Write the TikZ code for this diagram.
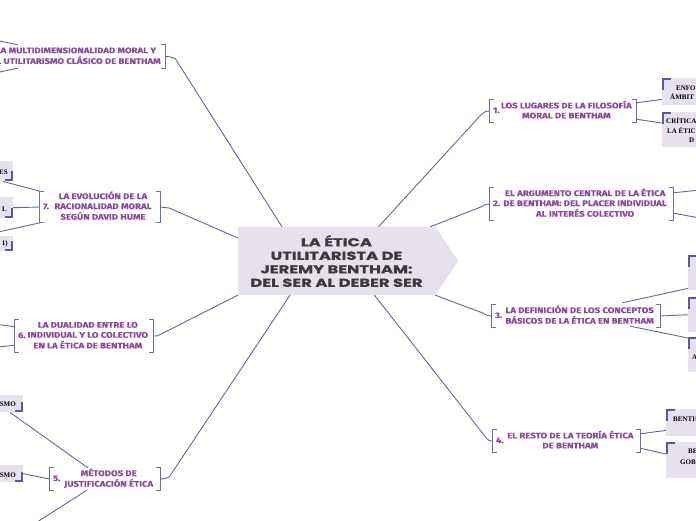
\documentclass[tikz,border=0pt]{standalone}
\usepackage{fontspec}
\setmainfont{Liberation Serif}
\newfontfamily\topicfont{Fira Sans}[FakeStretch=1.2,FakeBold=0.4]
\newfontfamily\centfont{Poppins}[FakeStretch=1.42,FakeBold=1.2]
\usetikzlibrary{calc,backgrounds}
\definecolor{lav}{HTML}{E7E1EE}
\definecolor{conn}{HTML}{6466A3}
\definecolor{brk}{HTML}{6A6BA8}
\definecolor{ttext}{HTML}{8B4A9D}
\definecolor{corner}{HTML}{575C9C}
\definecolor{ctext}{HTML}{3B3B3B}
\newcommand\mytopic[3]{\makebox[#1pt]{#2\hfill\begin{tabular}[c]{@{}c@{}}#3\end{tabular}\hfill}}
\newcommand\mybrackets[1]{%
 \draw[brkline] ($(#1.north west)+(4,0)$) -- (#1.north west) -- (#1.south west) -- ++(4,0);
 \draw[brkline] ($(#1.north east)+(-4,0)$) -- (#1.north east) -- (#1.south east) -- ++(-4,0);}
\newcommand\cornerR[1]{\draw[cornerline] ($(#1.north west)+(1.2,12)$) -- ($(#1.north west)+(1.2,1.2)$) -- ($(#1.north west)+(9,1.2)$);}
\newcommand\cornerL[1]{\draw[cornerline] ($(#1.south east)+(-1.2,-10)$) -- ($(#1.south east)+(-1.2,-1.2)$) -- ($(#1.south east)+(-8,-1.2)$);}
\begin{document}
\begin{tikzpicture}[x=1pt,y=-1pt,
 topic/.style={font=\topicfont\bfseries\fontsize{8}{10}\selectfont, text=ttext, inner xsep=3pt, inner ysep=0pt},
 brkline/.style={draw=brk, line width=1.2pt},
 link/.style={draw=conn, line width=0.9pt},
 sub/.style={fill=lav, inner sep=0pt, anchor=north west},
 subL/.style={fill=lav, inner sep=0pt, anchor=north east, minimum width=50pt},
 subtxt/.style={font=\bfseries\fontsize{7}{8}\selectfont, text=black, inner sep=0pt, anchor=base west},
 subtxtR/.style={subtxt, anchor=base east},
 cornerline/.style={draw=corner, line width=2.2pt},
]
\clip (0,0) rectangle (696,520);
% central node
\node[font=\centfont\bfseries\fontsize{11.5}{13.5}\selectfont, text=ctext, align=center,
  minimum width=197pt, minimum height=68pt, inner sep=0pt] (c) at (336.5,261)
  {LA ÉTICA\\UTILITARISTA DE\\JEREMY BENTHAM:\\DEL SER AL DEBER SER};
\begin{scope}[on background layer]
\fill[white] (0,0) rectangle (696,520);
\fill[lav] (c.north west) -- (c.north east) -- ($(c.east)+(23,0)$) -- (c.south east) -- (c.south west) -- cycle;
\end{scope}
% topics
\node[topic, minimum height=22pt] (t1) at (563,111) {\mytopic{140}{1.}{LOS LUGARES DE LA FILOSOFÍA\\MORAL DE BENTHAM}};
\node[topic, minimum height=32pt] (t2) at (581.5,204) {\mytopic{177}{2.}{EL ARGUMENTO CENTRAL DE LA ÉTICA\\DE BENTHAM: DEL PLACER INDIVIDUAL\\AL INTERÉS COLECTIVO}};
\node[topic, minimum height=22pt] (t3) at (576,316) {\mytopic{162}{3.}{LA DEFINICIÓN DE LOS CONCEPTOS\\BÁSICOS DE LA ÉTICA EN BENTHAM}};
\node[topic, minimum height=22pt] (t4) at (566.5,441) {\mytopic{141}{4.}{EL RESTO DE LA TEORÍA ÉTICA\\DE BENTHAM}};
\node[topic, minimum height=22pt] (t5) at (105,479) {\mytopic{104}{5.}{MÉTODOS DE\\JUSTIFICACIÓN ÉTICA}};
\node[topic, minimum height=32pt] (t6) at (84,336) {\mytopic{132}{6.}{LA DUALIDAD ENTRE LO\\INDIVIDUAL Y LO COLECTIVO\\EN LA ÉTICA DE BENTHAM}};
\node[topic, minimum height=30pt] (t7) at (100,207) {\mytopic{114}{7.}{LA EVOLUCIÓN DE LA\\RACIONALIDAD MORAL\\SEGÚN DAVID HUME}};
\node[topic, minimum height=23pt] (t8) at (72,56.5) {\mytopic{180}{8.}{LA MULTIDIMENSIONALIDAD MORAL Y\\EL UTILITARISMO CLÁSICO DE BENTHAM}};
\foreach \t in {t1,t2,t3,t4,t5,t6,t7,t8}{\mybrackets{\t}}
% sub nodes right
\node[sub, minimum width=60pt, minimum height=27pt] (s1a) at (662,78) {};
\node[sub, minimum width=60pt, minimum height=35pt] (s1b) at (662,112) {};
\node[sub, minimum width=30pt, minimum height=35pt] (s3a) at (688,255) {};
\node[sub, minimum width=30pt, minimum height=35pt] (s3b) at (688,297) {};
\node[sub, minimum width=30pt, minimum height=35pt] (s3c) at (688,337) {};
\node[sub, minimum width=60pt, minimum height=27pt] (s4a) at (666,409) {};
\node[sub, minimum width=60pt, minimum height=36pt] (s4b) at (666,442) {};
\foreach \s in {s1a,s1b,s3a,s3b,s3c,s4a,s4b}{\cornerR{\s}}
% sub nodes left
\node[subL, minimum height=20pt] (s7a) at (13,161) {};
\node[subL, minimum height=21pt] (s7b) at (13,197) {};
\node[subL, minimum height=15pt] (s7c) at (13,236) {};
\node[subL, minimum height=17pt] (s5a) at (23,395) {};
\node[subL, minimum height=17pt] (s5b) at (23,465) {};
\foreach \s in {s7a,s7b,s7c,s5a,s5b}{\cornerL{\s}}
% sub texts
\node[subtxt] (x1) at (676,90) {ENFO};
\node[subtxt] (x2) at (670,99) {ÁMBIT};
\node[subtxt] (x3) at (666,123.5) {CRÍTICA};
\node[subtxt] (x4) at (667,133) {LA ÉTIC};
\node[subtxt] (x5) at (689,142.5) {D};
\node[subtxt] (x6) at (692,359) {A};
\node[subtxt] (x7) at (673,421) {BENTH};
\node[subtxt] (x8) at (688,453) {BE};
\node[subtxt] (x9) at (680,464) {GOB};
\node[subtxtR] (y1) at (8,174) {ES};
\node[subtxtR] (y2) at (7,211) {L};
\node[subtxtR] (y3) at (8,245) {1)};
\node[subtxtR] (y4) at (16,406) {SMO};
\node[subtxtR] (y5) at (16,477) {SMO};
% free ends
\coordinate (e2a) at (700,190);
\coordinate (e2b) at (700,218);
\coordinate (e5c) at (20,533);
\coordinate (e6a) at (-20,322);
\coordinate (e6b) at (-20,349);
\coordinate (e8a) at (-10,39);
\coordinate (e8b) at (-10,74);
% central connectors
\draw[link] ($(c.north)+(-54.5,0)$) -- ($(t8.east)+(10,2)$) .. controls ($(t8.east)+(4,0)$) .. (t8.east);
\draw[link] ($(c.west)+(0,-23)$) -- ($(t7.east)+(9,1)$) .. controls ($(t7.east)+(4,0)$) .. (t7.east);
\draw[link] (c.south west) -- ($(t6.east)+(8,-2)$) .. controls ($(t6.east)+(4,0)$) .. (t6.east);
\draw[link] ($(c.south)+(-46.5,0)$) -- ($(t5.east)+(9,-2)$) .. controls ($(t5.east)+(4,0)$) .. (t5.east);
\draw[link] ($(c.north)+(42,0)$) -- ($(t1.west)+(-9,4)$) .. controls ($(t1.west)+(-4,0)$) .. (t1.west);
\draw[link] ($(c.north east)+(-5,0)$) -- ($(t2.west)+(-9,3)$) .. controls ($(t2.west)+(-4,0)$) .. (t2.west);
\draw[link] (c.south east) -- ($(t3.west)+(-9,-3)$) .. controls ($(t3.west)+(-4,0)$) .. (t3.west);
\draw[link] ($(c.south)+(38,0)$) -- ($(t4.west)+(-8,-5)$) .. controls ($(t4.west)+(-4,0)$) .. (t4.west);
% topic to sub connectors
\draw[link] ($(t1.north east)+(0,3)$) -- ($(s1a.south west)+(0,-6)$);
\draw[link] ($(t1.south east)+(0,-3)$) -- ($(s1b.north west)+(0,11)$);
\draw[link] ($(t2.north east)+(0,5)$) -- (e2a);
\draw[link] ($(t2.south east)+(0,-7)$) -- (e2b);
\draw[link] ($(t3.north east)+(-38,-2)$) -- ($(s3a.south west)+(0,-2)$);
\draw[link] (t3.east) -- (s3b.west);
\draw[link] ($(t3.south east)+(-30,-1)$) -- ($(s3c.north west)+(0,1)$);
\draw[link] ($(t4.north east)+(0,4)$) -- ($(s4a.south west)+(0,-6)$);
\draw[link] ($(t4.south east)+(0,-4)$) -- ($(s4b.north west)+(0,12)$);
\draw[link] ($(s7a.south east)+(-10,0)$) -- (t7.north west);
\draw[link] (s7b.east) -- (t7.west);
\draw[link] ($(s7c.north east)+(-33,0)$) -- (t7.south west);
\draw[link] ($(s5a.south east)+(-13,0)$) -- ($(t5.north west)+(38,0)$);
\draw[link] (s5b.east) -- (t5.west);
\draw[link] ($(t5.south west)+(37,0)$) -- (e5c);
\draw[link] ($(t6.north west)+(0,7)$) -- (e6a);
\draw[link] ($(t6.south west)+(0,-7)$) -- (e6b);
\draw[link] ($(t8.north west)+(39,0)$) -- (e8a);
\draw[link] ($(t8.south west)+(39,0)$) -- (e8b);
\end{tikzpicture}
\end{document}
